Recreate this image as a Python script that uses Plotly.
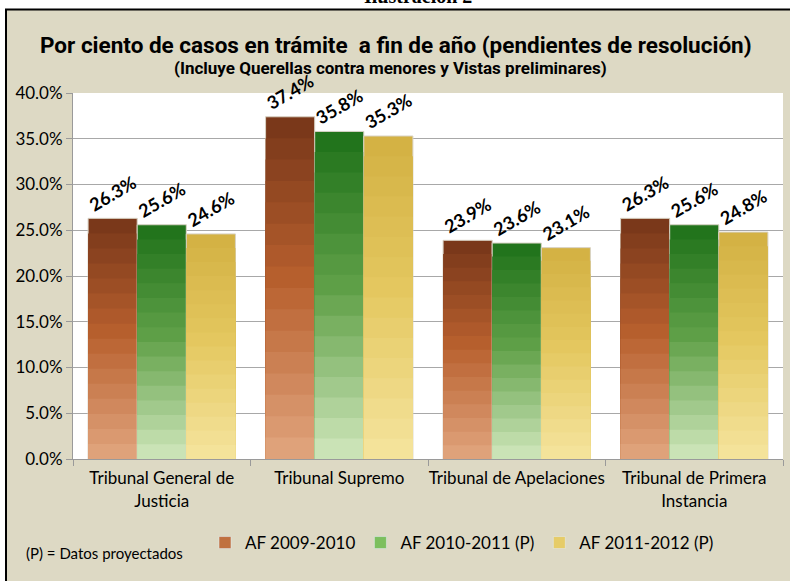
import plotly.graph_objects as go

categories = ["Tribunal General de<br>Justicia", "Tribunal Supremo",
              "Tribunal de Apelaciones", "Tribunal de Primera<br>Instancia"]
series_names = ["AF 2009-2010", "AF 2010-2011 (P)", "AF 2011-2012 (P)"]
af_2009_2010 = [0.263, 0.374, 0.239, 0.263]
af_2010_2011 = [0.256, 0.358, 0.236, 0.256]
af_2011_2012 = [0.246, 0.353, 0.231, 0.248]
y_ticks = [0.0, 0.05, 0.10, 0.15, 0.20, 0.25, 0.30, 0.35, 0.40]

series_values = [af_2009_2010, af_2010_2011, af_2011_2012]
# colour stops (top, middle, bottom) used for a vertical shading of each bar
stops = [
    [(122, 56, 26), (184, 96, 46), (228, 170, 132)],
    [(34, 116, 28), (96, 160, 72), (216, 236, 196)],
    [(212, 178, 68), (228, 200, 96), (246, 230, 162)],
]
legend_colors = ["#C0703F", "#7CBF5E", "#E6CC68"]

def shade(st, f):
    top, mid, bot = st
    m = 0.55
    if f >= m:
        t = (f - m) / (1 - m)
        a, b = mid, top
    else:
        t = f / m
        a, b = bot, mid
    c = [round(a[i] + (b[i] - a[i]) * t) for i in range(3)]
    return "rgb(%d,%d,%d)" % tuple(c)

N = 16
fig = go.Figure()
for s, (name, vals) in enumerate(zip(series_names, series_values)):
    # full bar with its label
    fig.add_trace(go.Bar(
        x=categories, y=vals, name=name, offsetgroup=str(s),
        marker=dict(color=shade(stops[s], 1.0), line=dict(color="#D8D2C4", width=1)),
        text=["%.1f%%" % (v * 100) for v in vals], textposition="outside",
        textangle=-30, constraintext="none", cliponaxis=False,
        textfont=dict(family="Lato, sans-serif", size=18, color="black", weight="bold"),
        showlegend=False, legendgroup=name,
    ))
    # lighter overlays toward the base for a shaded look
    for k in range(1, N):
        f = 1 - k / N
        fig.add_trace(go.Bar(
            x=categories, y=[v * f for v in vals], offsetgroup=str(s),
            marker=dict(color=shade(stops[s], f), line=dict(width=0)),
            hoverinfo="skip", showlegend=False, legendgroup=name,
        ))
    # legend swatch
    fig.add_trace(go.Bar(
        x=[categories[0]], y=[None], name=name, offsetgroup=str(s),
        marker=dict(color=legend_colors[s]), showlegend=True, legendgroup=name,
    ))

L, T, W, H = 73, 93, 710, 366
def px(x):
    return (x - L) / W
def py(y):
    return (T + H - y) / H

fig.update_layout(
    width=790, height=581,
    margin=dict(l=L, r=790 - L - W, t=T, b=581 - T - H, autoexpand=False),
    paper_bgcolor="#DDD9C4", plot_bgcolor="white",
    barmode="group", bargap=0.17, bargroupgap=0.0,
    font=dict(family="Lato, sans-serif", size=16, color="black"),
    showlegend=True,
    legend=dict(orientation="h", x=px(205), xanchor="left", y=py(525), yanchor="top",
                font=dict(size=17), bgcolor="rgba(0,0,0,0)", itemwidth=30,
                traceorder="normal"),
    xaxis=dict(showline=True, linecolor="#9A9A9A", ticks="outside", tickson="boundaries",
               ticklen=6, tickcolor="#9A9A9A", tickfont=dict(size=17), tickangle=0,
               ticklabelstandoff=4, showgrid=False, automargin=False),
    yaxis=dict(range=[0, 0.40], tickvals=y_ticks, tickformat=".1%", showline=True,
               linecolor="#9A9A9A", ticks="outside", ticklen=6, tickcolor="#9A9A9A",
               gridcolor="#A8A8A8", gridwidth=1, tickfont=dict(size=17), zeroline=False,
               automargin=False),
    shapes=[
        dict(type="rect", xref="paper", yref="paper", x0=-0.2, x1=1.2, y0=py(9.5), y1=1.4,
             fillcolor="white", line=dict(width=0), layer="above"),
        dict(type="rect", xref="paper", yref="paper", x0=-0.2, x1=px(6), y0=-0.5, y1=1.4,
             fillcolor="white", line=dict(width=0), layer="above"),
        dict(type="rect", xref="paper", yref="paper", x0=px(6), x1=1.1, y0=-0.5, y1=py(9.5),
             fillcolor="rgba(0,0,0,0)", line=dict(color="black", width=2), layer="above"),
    ],
    annotations=[
        dict(text="<b>Ilustración 2</b>", xref="paper", yref="paper", x=px(418), y=py(9),
             xanchor="center", yanchor="bottom", showarrow=False,
             font=dict(family="Liberation Serif, serif", size=20, color="black")),
        dict(text="<b>Por ciento de casos en trámite  a fin de año (pendientes de resolución)</b>",
             xref="paper", yref="paper", x=px(396), y=py(45), xanchor="center", yanchor="middle",
             showarrow=False,
             font=dict(family="Roboto, sans-serif", size=22.5, color="black")),
        dict(text="<b>(Incluye Querellas contra menores y Vistas preliminares)</b>",
             xref="paper", yref="paper", x=px(390), y=py(68), xanchor="center", yanchor="middle",
             showarrow=False,
             font=dict(family="Roboto, sans-serif", size=17, color="black")),
        dict(text="(P) = Datos proyectados", xref="paper", yref="paper", x=px(24), y=py(553),
             xanchor="left", yanchor="middle", showarrow=False,
             font=dict(family="Lato, sans-serif", size=15, color="black")),
    ],
)

fig.write_html("out.html", config={"displayModeBar": False},
               post_script="document.body.style.margin='0';document.body.style.overflow='hidden';")
